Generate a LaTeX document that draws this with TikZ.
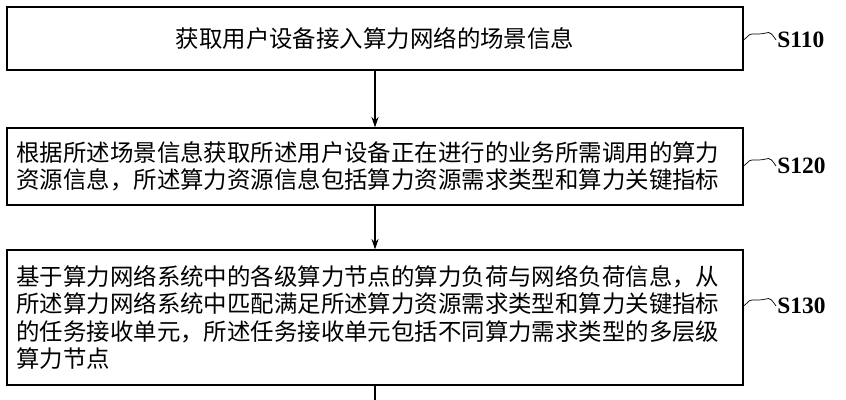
\documentclass[tikz,border=0pt]{standalone}
\usepackage{fontspec}
\newfontfamily\cjk{Noto Sans CJK SC}
\setmainfont{Liberation Serif}
\usetikzlibrary{arrows.meta}
\begin{document}
\begin{tikzpicture}[x=0.03cm,y=-0.03cm]
  \tikzset{stepbox/.style={draw,line width=0.9pt,inner sep=0pt},
    steptext/.style={font=\cjk\fontsize{20}{23.5}\selectfont,align=left},
    steplabel/.style={font=\bfseries\fontsize{20}{20}\selectfont,anchor=west,inner sep=1pt},
    flow/.style={line width=0.9pt,-{Stealth[length=9pt,width=6pt]}}}
  \useasboundingbox (0,0) rectangle (846,400);
  % boxes
  \node[stepbox,minimum width=736*0.03cm,minimum height=63*0.03cm] (b1) at (375,38.5) {};
  \node[steptext] at (b1.center) {获取用户设备接入算力网络的场景信息};
  \node[stepbox,minimum width=736*0.03cm,minimum height=77*0.03cm] (b2) at (375,166.5) {};
  \node[steptext,anchor=west] at ([xshift=5pt]b2.west) {根据所述场景信息获取所述用户设备正在进行的业务所需调用的算力\\资源信息，所述算力资源信息包括算力资源需求类型和算力关键指标};
  \node[stepbox,minimum width=736*0.03cm,minimum height=135*0.03cm] (b3) at (375,317.5) {};
  \node[steptext,anchor=west] at ([xshift=5pt]b3.west) {基于算力网络系统中的各级算力节点的算力负荷与网络负荷信息，从\\所述算力网络系统中匹配满足所述算力资源需求类型和算力关键指标\\的任务接收单元，所述任务接收单元包括不同算力需求类型的多层级\\算力节点};
  % connectors
  \draw[flow] (b1.south) -- (b2.north);
  \draw[flow] (b2.south) -- (b3.north);
  \coordinate (bend) at (375,400);
  \draw[line width=0.9pt] (b3.south) -- (bend);
  % labels
  \node[steplabel] (s1) at (776,40) {S110};
  \node[steplabel] (s2) at (776,166) {S120};
  \node[steplabel] (s3) at (776,306) {S130};
  \foreach \b/\s in {b1/s1,b2/s2,b3/s3}
    \draw[line width=0.6pt] (\s.west) .. controls ++(-8,-12) and ++(12,0) .. ++(-18,-6)
      .. controls ++(-12,0) and ++(8,-6) .. (\b.east |- \s.west);
\end{tikzpicture}
\end{document}
